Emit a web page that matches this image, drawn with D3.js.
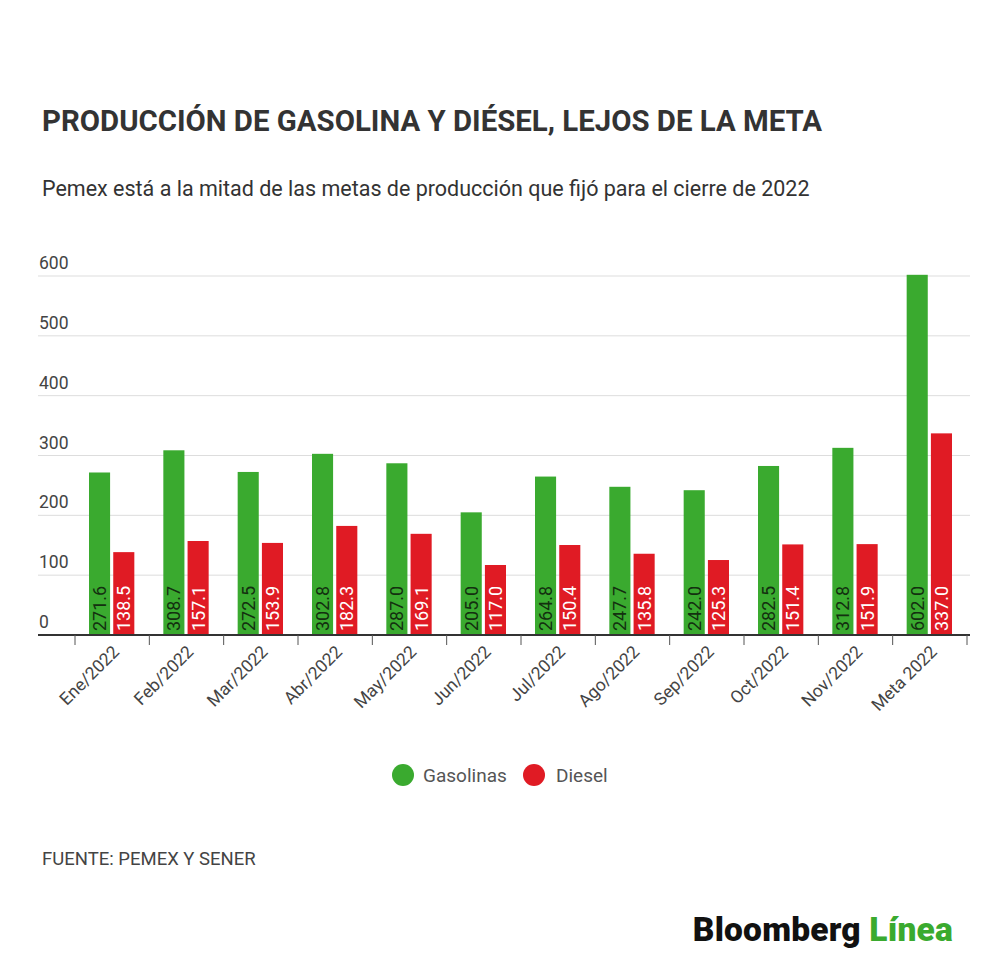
<!DOCTYPE html>
<html>
<head>
<meta charset="utf-8">
<script src="https://cdn.jsdelivr.net/npm/d3@7"></script>
<style>
  body { margin:0; background:#fff; }
  svg { font-family: Roboto, "Noto Sans", sans-serif; }
</style>
</head>
<body>
<svg id="chart" width="1000" height="975"></svg>
<script>
// chart data
const months = ['Ene/2022','Feb/2022','Mar/2022','Abr/2022','May/2022','Jun/2022','Jul/2022','Ago/2022','Sep/2022','Oct/2022','Nov/2022','Meta 2022'];
const gasolinas = [271.6, 308.7, 272.5, 302.8, 287.0, 205.0, 264.8, 247.7, 242.0, 282.5, 312.8, 602.0];
const diesel = [138.5, 157.1, 153.9, 182.3, 169.1, 117.0, 150.4, 135.8, 125.3, 151.4, 151.9, 337.0];
const yTicks = [0, 100, 200, 300, 400, 500, 600];
const seriesNames = ['Gasolinas', 'Diesel'];
const colors = ['#3aaa2f', '#e01b24'];

const svg = d3.select('#chart');

// titles
svg.append('text').attr('x', 42).attr('y', 131)
  .attr('font-size', 29.4).attr('font-weight', 700).attr('fill', '#333')
  .text('PRODUCCIÓN DE GASOLINA Y DIÉSEL, LEJOS DE LA META');
svg.append('text').attr('x', 42).attr('y', 196)
  .attr('font-size', 21.5).attr('fill', '#333')
  .text('Pemex está a la mitad de las metas de producción que fijó para el cierre de 2022');

const plotLeft = 75, plotRight = 967, plotTop = 276, plotBottom = 635;
const x = d3.scaleBand().domain(months).range([plotLeft, plotRight]);
const y = d3.scaleLinear().domain([0, 600]).range([plotBottom, plotTop]);
const x1 = d3.scaleBand().domain(seriesNames).range([14, x.bandwidth() - 15]).paddingInner(0.13);

// grid + y labels
const grid = svg.append('g');
yTicks.forEach(t => {
  if (t > 0) grid.append('line').attr('x1', 38).attr('x2', 970)
    .attr('y1', y(t)).attr('y2', y(t)).attr('stroke', '#ddd').attr('stroke-width', 1);
  grid.append('text').attr('x', 39).attr('y', y(t) - 7)
    .attr('font-size', 17.5).attr('fill', '#444').text(t);
});

// bars
const groups = svg.append('g').selectAll('g').data(months).join('g')
  .attr('transform', d => `translate(${x(d)},0)`);

seriesNames.forEach((s, si) => {
  const vals = si === 0 ? gasolinas : diesel;
  groups.append('rect')
    .attr('x', x1(s)).attr('width', x1.bandwidth())
    .attr('y', (d, i) => y(vals[i])).attr('height', (d, i) => plotBottom - y(vals[i]))
    .attr('fill', colors[si]);
  groups.append('text')
    .attr('transform', `translate(${x1(s) + x1.bandwidth() / 2 + 6.5},${plotBottom - 4}) rotate(-90)`)
    .attr('font-size', 18).attr('fill', si === 0 ? '#13300f' : '#fff')
    .text((d, i) => vals[i].toFixed(1));
});

// x axis
const xAxis = svg.append('g').attr('transform', `translate(0,${plotBottom})`);
xAxis.append('line').attr('x1', 38).attr('x2', 970).attr('stroke', '#333').attr('stroke-width', 2);
const tickPos = months.map(m => x(m)).concat([plotRight]);
xAxis.selectAll('line.tick').data(tickPos).join('line').attr('class', 'tick')
  .attr('x1', d => d).attr('x2', d => d).attr('y1', 0).attr('y2', 10)
  .attr('stroke', '#555').attr('stroke-width', 1);
xAxis.selectAll('text').data(months).join('text')
  .attr('transform', d => `translate(${x(d) + x.bandwidth() / 2 + 8},${18}) rotate(-45)`)
  .attr('text-anchor', 'end').attr('font-size', 17.5).attr('fill', '#444')
  .text(d => d);

// legend
const legend = svg.append('g');
const legendItems = [{ cx: 403, tx: 423 }, { cx: 534, tx: 556 }];
seriesNames.forEach((s, i) => {
  legend.append('circle').attr('cx', legendItems[i].cx).attr('cy', 775).attr('r', 11).attr('fill', colors[i]);
  legend.append('text').attr('x', legendItems[i].tx).attr('y', 782)
    .attr('font-size', 19).attr('fill', '#555').text(s);
});

// source
svg.append('text').attr('x', 42).attr('y', 865)
  .attr('font-size', 18.5).attr('fill', '#444').text('FUENTE: PEMEX Y SENER');

// logo
const logo = svg.append('text').attr('x', 953).attr('y', 941).attr('text-anchor', 'end')
  .attr('font-size', 33.5).attr('font-weight', 900).attr('letter-spacing', 0.2);
logo.append('tspan').attr('fill', '#111').text('Bloomberg ');
logo.append('tspan').attr('fill', '#3aaa2f').text('Línea');
</script>
</body>
</html>
